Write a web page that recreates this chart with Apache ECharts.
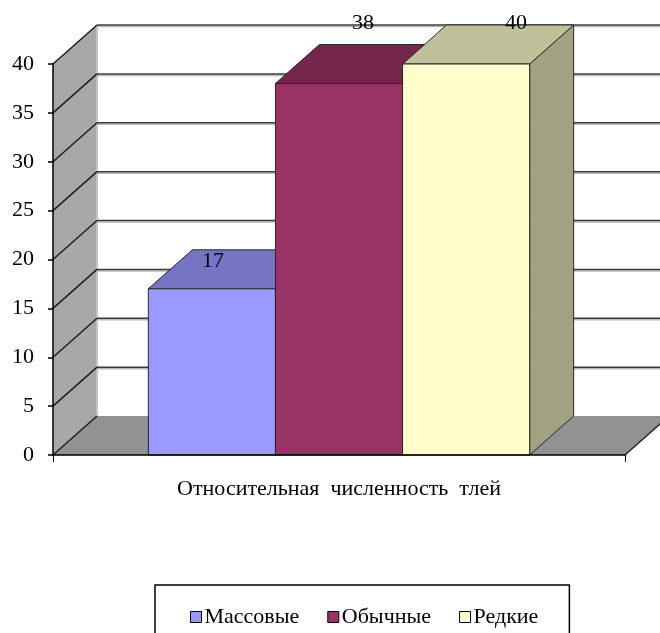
<!DOCTYPE html>
<html>
<head>
<meta charset="utf-8">
<script src="https://cdn.jsdelivr.net/npm/echarts@6/dist/echarts.min.js"></script>
<style>
  html, body { margin: 0; padding: 0; background: #fff; }
  #chart { width: 660px; height: 633px; }
</style>
</head>
<body>
<div id="chart"></div>
<script>
// ---- data ----
const categories = ['Относительная  численность  тлей'];
const seriesNames = ['Массовые', 'Обычные', 'Редкие'];
const massValues = [17];
const commonValues = [38];
const rareValues = [40];
const yTickValues = [0, 5, 10, 15, 20, 25, 30, 35, 40];

// ---- styling ----
const FONT = "'Liberation Serif', 'Times New Roman', serif";
const frontColors = ['#9999FF', '#993366', '#FFFFCC'];
const topColors = ['#7575C4', '#74264D', '#C0C09B'];
const sideColors = ['#6B6BB3', '#5F1F40', '#A2A282'];
const DEPTH_X = 44;      // oblique depth offset of the 3D box
const DEPTH_Y = -39;
const SIDE_GAP = 1 / 6;  // empty share of the category band on each side
const LABEL_SHIFT = [[1, -28], [24, -60], [50, -40.5]];
const Y_MAX = 40;

const allValues = [massValues, commonValues, rareValues];

// floor, side wall, back wall and their gridlines
function renderWalls(params, api) {
  const bw = api.size([1, 0])[0];
  const base = api.coord([0, 0]);
  const xl = base[0] - bw / 2, xr = base[0] + bw / 2, y0 = base[1];
  const yTop = api.coord([0, Y_MAX])[1];
  const kids = [];
  // back wall
  kids.push({ type: 'rect', shape: { x: xl + DEPTH_X, y: yTop + DEPTH_Y, width: bw + 80, height: y0 - yTop },
    style: { fill: '#ffffff' } });
  // floor
  kids.push({ type: 'polygon', shape: { points: [[xl, y0], [xr, y0], [xr + DEPTH_X, y0 + DEPTH_Y], [xl + DEPTH_X, y0 + DEPTH_Y]] },
    style: { fill: '#929292', stroke: null } });
  kids.push({ type: 'line', shape: { x1: xr, y1: y0, x2: xr + DEPTH_X, y2: y0 + DEPTH_Y },
    style: { stroke: '#2a2a2a', lineWidth: 1.5 } });
  // left wall
  kids.push({ type: 'polygon', shape: { points: [[xl, y0], [xl, yTop], [xl + DEPTH_X, yTop + DEPTH_Y], [xl + DEPTH_X, y0 + DEPTH_Y]] },
    style: { fill: '#A8A8A8', stroke: null } });
  kids.push({ type: 'line', shape: { x1: xl + DEPTH_X, y1: yTop + DEPTH_Y, x2: xl + DEPTH_X, y2: y0 + DEPTH_Y },
    style: { stroke: '#c4c4c4', lineWidth: 2 } });
  yTickValues.forEach(function (v) {
    const y = api.coord([0, v])[1];
    if (v > 0) {
      kids.push({ type: 'line', shape: { x1: xl + DEPTH_X, y1: y + DEPTH_Y + 1.5, x2: xr + DEPTH_X + 80, y2: y + DEPTH_Y + 1.5 },
        style: { stroke: '#b8b8b8', lineWidth: 1.5 } });
      kids.push({ type: 'line', shape: { x1: xl + DEPTH_X, y1: y + DEPTH_Y, x2: xr + DEPTH_X + 80, y2: y + DEPTH_Y },
        style: { stroke: '#3a3a3a', lineWidth: 1.5 } });
    }
    kids.push({ type: 'line', shape: { x1: xl, y1: y, x2: xl + DEPTH_X, y2: y + DEPTH_Y },
      style: { stroke: '#1e1e1e', lineWidth: 1.5 } });
  });
  return { type: 'group', children: kids };
}

// one 3D column per series: front face, top face, right face, value label
function makeBarRenderer(idx) {
  return function (params, api) {
    const bw = api.size([1, 0])[0];
    const cat = api.value(0);
    const val = api.value(1);
    const base = api.coord([cat, 0]);
    const top = api.coord([cat, val]);
    const gap = bw * SIDE_GAP;
    const w = (bw - 2 * gap) / seriesNames.length;
    const x0 = base[0] - bw / 2 + gap + idx * w;
    const x1 = x0 + w;
    const y0 = base[1], y1 = top[1];
    const edge = { stroke: '#262626', lineWidth: 1, lineJoin: 'round' };
    const shift = LABEL_SHIFT[idx];
    return {
      type: 'group',
      children: [
        { type: 'polygon', shape: { points: [[x1, y1], [x1 + DEPTH_X, y1 + DEPTH_Y], [x1 + DEPTH_X, y0 + DEPTH_Y], [x1, y0]] },
          style: Object.assign({ fill: sideColors[idx] }, edge) },
        { type: 'polygon', shape: { points: [[x0, y1], [x1, y1], [x1 + DEPTH_X, y1 + DEPTH_Y], [x0 + DEPTH_X, y1 + DEPTH_Y]] },
          style: Object.assign({ fill: topColors[idx] }, edge) },
        { type: 'rect', shape: { x: x0, y: y1, width: w, height: y0 - y1 },
          style: Object.assign({ fill: frontColors[idx] }, edge) },
        { type: 'text', z2: 10,
          style: { text: String(val), x: (x0 + x1) / 2 + shift[0], y: y1 + shift[1],
            align: 'center', verticalAlign: 'middle', fill: '#000', fontSize: 22, fontFamily: FONT } }
      ]
    };
  };
}

const chart = echarts.init(document.getElementById('chart'), null, { renderer: 'canvas' });

const series = [{
  type: 'custom', name: 'walls', silent: true, clip: false, z: 0,
  renderItem: renderWalls, data: [[0, 0]], encode: { x: 0, y: 1 }
}];
seriesNames.forEach(function (name, i) {
  series.push({
    type: 'custom', name: name, clip: false, z: 2,
    itemStyle: { color: frontColors[i] },
    renderItem: makeBarRenderer(i),
    data: allValues[i].map(function (v, c) { return [c, v]; }),
    encode: { x: 0, y: 1 }
  });
});

chart.setOption({
  animation: false,
  backgroundColor: '#ffffff',
  grid: { left: 53, right: 35, top: 64, bottom: 178 },
  xAxis: {
    type: 'category', data: categories, z: 10,
    axisLine: { show: true, lineStyle: { color: '#000', width: 1.5 } },
    axisTick: { show: true, length: 7, lineStyle: { color: '#000' } },
    axisLabel: { color: '#000', fontSize: 22, fontFamily: FONT, margin: 23 },
    splitLine: { show: false }
  },
  yAxis: {
    type: 'value', min: 0, max: Y_MAX, interval: 5, z: 10,
    axisLine: { show: true, lineStyle: { color: '#000', width: 1.5 } },
    axisTick: { show: true, length: 5, lineStyle: { color: '#000', width: 1.5 } },
    axisLabel: { color: '#000', fontSize: 22, fontFamily: FONT, margin: 19 },
    splitLine: { show: false }
  },
  legend: {
    data: seriesNames,
    left: 155, top: 585,
    padding: [21, 31, 40, 35],
    itemGap: 28,
    itemWidth: 11, itemHeight: 11,
    icon: 'rect',
    itemStyle: { borderColor: '#000', borderWidth: 1 },
    borderColor: '#000', borderWidth: 1.5,
    textStyle: { color: '#000', fontSize: 22, fontFamily: FONT, padding: [0, 0, 0, -2] },
    selectedMode: false
  },
  series: series
});
</script>
</body>
</html>
